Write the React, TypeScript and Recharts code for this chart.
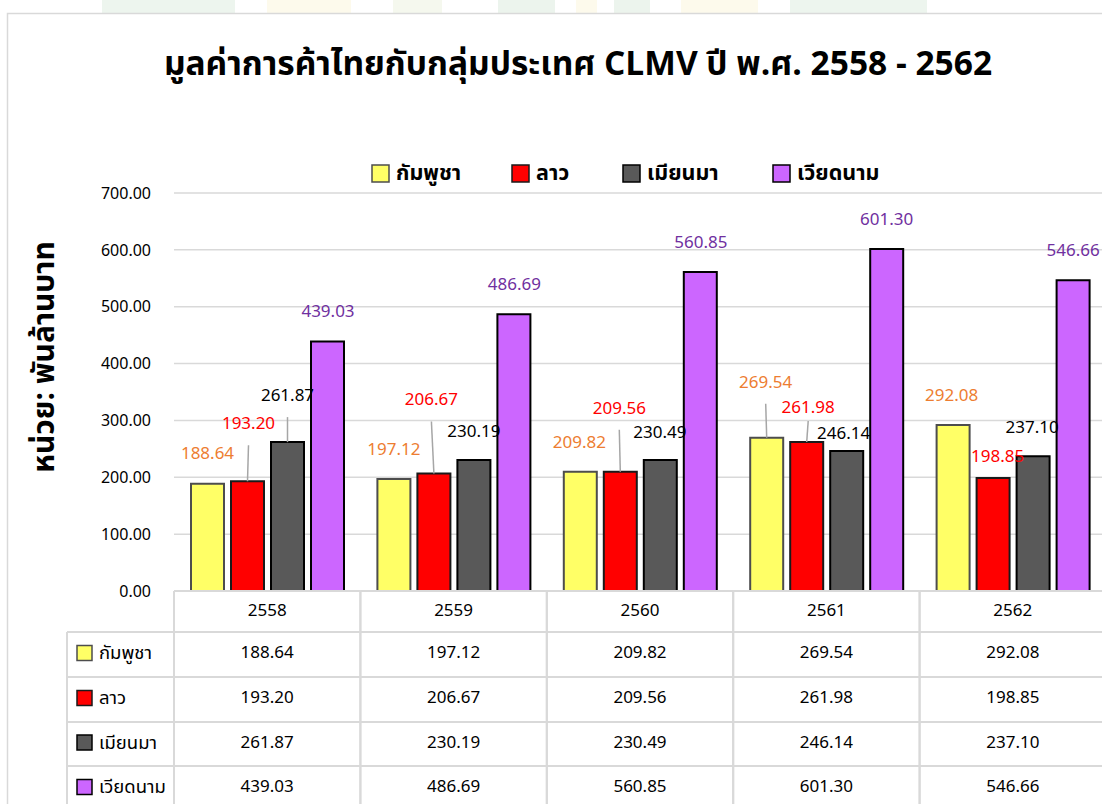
import React from 'react';
import { BarChart, Bar, XAxis, YAxis, CartesianGrid, LabelList } from 'recharts';

const years = ['2558', '2559', '2560', '2561', '2562'];
const cambodia = [188.64, 197.12, 209.82, 269.54, 292.08];
const laos = [193.2, 206.67, 209.56, 261.98, 198.85];
const myanmar = [261.87, 230.19, 230.49, 246.14, 237.1];
const vietnam = [439.03, 486.69, 560.85, 601.3, 546.66];
const yTicks = [0, 100, 200, 300, 400, 500, 600, 700];
const seriesNames = ['กัมพูชา', 'ลาว', 'เมียนมา', 'เวียดนาม'];
const seriesKeys = ['kh', 'la', 'mm', 'vn'];
const seriesValues = [cambodia, laos, myanmar, vietnam];
const titleText = 'มูลค่าการค้าไทยกับกลุ่มประเทศ CLMV ปี พ.ศ. 2558 - 2562';
const yTitleText = 'หน่วย: พันล้านบาท';

const data = years.map((y, i) => {
  const row: any = { year: y };
  seriesKeys.forEach((k, s) => { row[k] = seriesValues[s][i]; });
  return row;
});

// styling
const F = "Tahoma, 'Noto Sans Thai', 'Noto Sans', sans-serif";
const fills = ['#FFFF66', '#FF0000', '#595959', '#CC66FF'];
const strokes = ['#4d4d4d', '#1a1a1a', '#000000', '#000000'];
const labelColors = ['#ED7D31', '#FF0000', '#000000', '#7030A0'];
const GRID = '#d9d9d9';

// label placement nudges (per series, per category)
type Nudge = { dx: number; up: number; line?: boolean; lt?: number };
const nudges: Nudge[][] = [
  [{ dx: 0, up: 30 }, { dx: 0, up: 29 }, { dx: -1, up: 29 }, { dx: -1, up: 55, line: true }, { dx: -1.5, up: 29 }],
  [{ dx: 1, up: 57, line: true }, { dx: -2.5, up: 73, line: true }, { dx: -1, up: 63, line: true }, { dx: 1.5, up: 34.5, line: true, lt: 13.5 }, { dx: 4.5, up: 21 }],
  [{ dx: 0, up: 46, line: true }, { dx: 0, up: 28 }, { dx: -0.5, up: 27 }, { dx: -3, up: 17.5 }, { dx: -1, up: 28 }],
  [{ dx: 0.5, up: 29 }, { dx: 0.5, up: 29 }, { dx: 0.5, up: 29 }, { dx: 0, up: 29 }, { dx: 0, up: 29 }],
];

const CHART_W = 1110;
const CHART_H = 830;
const PLOT_LEFT = 174;
const PLOT_RIGHT_MARGIN = 4;
const PLOT_TOP = 193;
const PLOT_BOTTOM = 591;
const BAND = (CHART_W - PLOT_LEFT - PLOT_RIGHT_MARGIN) / years.length;
const ROWS = [591, 632, 677, 722, 766, 811];
const LEFT_COL = 67;

const makeLabel = (s: number) => (props: any) => {
  const { x, y, width, index, value } = props;
  const n = nudges[s][index];
  const bx = Number(x) + Number(width) / 2;
  const by = Number(y);
  const cx = bx + n.dx;
  const cy = by - n.up;
  return (
    <g>
      {n.line && (
        <line x1={cx} y1={cy + (n.lt ?? 21)} x2={bx} y2={by} stroke="#a6a6a6" strokeWidth={1.5} />
      )}
      <text x={cx} y={cy} textAnchor="middle" dominantBaseline="central" fill={labelColors[s]} fontSize={17} fontFamily={F}>
        {Number(value).toFixed(2)}
      </text>
    </g>
  );
};

const TableTick = (props: any) => {
  const { x, payload } = props;
  const i = payload.index;
  const left = x - BAND / 2;
  const right = x + BAND / 2;
  const els: any[] = [];
  ROWS.forEach((ry, r) => {
    els.push(<line key={'h' + r} x1={left} x2={right} y1={ry} y2={ry} stroke={GRID} strokeWidth={2} />);
  });
  els.push(<line key="vl" x1={left} x2={left} y1={ROWS[0]} y2={ROWS[5]} stroke={GRID} strokeWidth={2} />);
  els.push(<line key="vr" x1={right} x2={right} y1={ROWS[0]} y2={ROWS[5]} stroke={GRID} strokeWidth={2} />);
  els.push(
    <text key="hdr" x={x} y={(ROWS[0] + ROWS[1]) / 2 - 1} textAnchor="middle" dominantBaseline="central" fontSize={17} fontFamily={F} fill="#000">
      {payload.value}
    </text>
  );
  seriesValues.forEach((vals, s) => {
    els.push(
      <text key={'v' + s} x={x} y={(ROWS[s + 1] + ROWS[s + 2]) / 2 - 1.5} textAnchor="middle" dominantBaseline="central" fontSize={17} fontFamily={F} fill="#000">
        {vals[i].toFixed(2)}
      </text>
    );
  });
  if (i === 0) {
    els.push(<line key="lcv" x1={LEFT_COL} x2={LEFT_COL} y1={ROWS[1]} y2={ROWS[5]} stroke={GRID} strokeWidth={2} />);
    for (let r = 1; r < ROWS.length; r++) {
      els.push(<line key={'lh' + r} x1={LEFT_COL} x2={left} y1={ROWS[r]} y2={ROWS[r]} stroke={GRID} strokeWidth={2} />);
    }
    seriesNames.forEach((nm, s) => {
      const cy = (ROWS[s + 1] + ROWS[s + 2]) / 2 - 1.5;
      els.push(<rect key={'lk' + s} x={77} y={cy - 7.5} width={15} height={15} fill={fills[s]} stroke={strokes[s]} strokeWidth={1.5} />);
      els.push(
        <text key={'ln' + s} x={99} y={cy} dominantBaseline="central" fontSize={18.5} fontFamily={F} fill="#000">
          {nm}
        </text>
      );
    });
  }
  return <g>{els}</g>;
};

const legendX = [372, 512, 623, 773];

export default function App() {
  return (
    <div style={{ position: 'fixed', left: 0, top: 0, width: 1102, height: 804, overflow: 'hidden', background: '#fff' }}>
      <svg width={1102} height={804} style={{ position: 'absolute', left: 0, top: 0 }}>
        <rect x={102} y={0} width={133} height={13} fill="#edf5ee" />
        <rect x={267} y={0} width={84} height={13} fill="#fdfaec" />
        <rect x={393} y={0} width={49} height={13} fill="#f5f8ee" />
        <rect x={498} y={0} width={57} height={13} fill="#ecf4ed" />
        <rect x={576} y={0} width={21} height={13} fill="#fdfaec" />
        <rect x={614} y={0} width={36} height={13} fill="#ecf4ed" />
        <rect x={681} y={0} width={77} height={13} fill="#fdfaec" />
        <rect x={790} y={0} width={137} height={13} fill="#edf5ee" />
        <rect x={7.5} y={13.5} width={1120} height={820} fill="#fff" stroke={GRID} strokeWidth={1.5} />
      </svg>
      <div style={{ position: 'absolute', left: 0, top: 0 }}>
        <BarChart
          width={CHART_W}
          height={CHART_H}
          data={data}
          margin={{ top: PLOT_TOP, right: PLOT_RIGHT_MARGIN, left: 0, bottom: 0 }}
          barSize={33}
          barGap={7}
        >
          <CartesianGrid vertical={false} stroke={GRID} strokeWidth={1.5} />
          <XAxis
            dataKey="year"
            axisLine={false}
            tickLine={false}
            tickSize={0}
            tickMargin={0}
            height={CHART_H - PLOT_BOTTOM}
            interval={0}
            tick={<TableTick />}
          />
          <YAxis
            domain={[0, 700]}
            ticks={yTicks}
            width={PLOT_LEFT}
            axisLine={false}
            tickLine={false}
            tickSize={0}
            tickMargin={23}
            interval={0}
            tick={{ fontSize: 16, fill: '#000', fontFamily: F }}
            tickFormatter={(v: number) => v.toFixed(2)}
          />
          {seriesKeys.map((k, s) => (
            <Bar key={k} dataKey={k} name={seriesNames[s]} fill={fills[s]} stroke={strokes[s]} strokeWidth={2} isAnimationActive={false}>
              <LabelList dataKey={k} content={makeLabel(s)} />
            </Bar>
          ))}
        </BarChart>
      </div>
      <svg width={1102} height={804} style={{ position: 'absolute', left: 0, top: 0, pointerEvents: 'none' }}>
        <text x={578} y={64} textAnchor="middle" dominantBaseline="central" fontSize={33.5} fontWeight="bold" fontFamily={F} fill="#000">
          {titleText}
        </text>
        <text
          x={0}
          y={0}
          transform="translate(45,357) rotate(-90)"
          textAnchor="middle"
          dominantBaseline="central"
          fontSize={30}
          fontWeight="bold"
          fontFamily={F}
          fill="#000"
        >
          {yTitleText}
        </text>
        {seriesNames.map((nm, s) => (
          <g key={nm}>
            <rect x={legendX[s]} y={165} width={17} height={17} fill={fills[s]} stroke={strokes[s]} strokeWidth={1.5} />
            <text x={legendX[s] + 24} y={173.5} dominantBaseline="central" fontSize={21.5} fontWeight="bold" fontFamily={F} fill="#000">
              {nm}
            </text>
          </g>
        ))}
      </svg>
    </div>
  );
}
